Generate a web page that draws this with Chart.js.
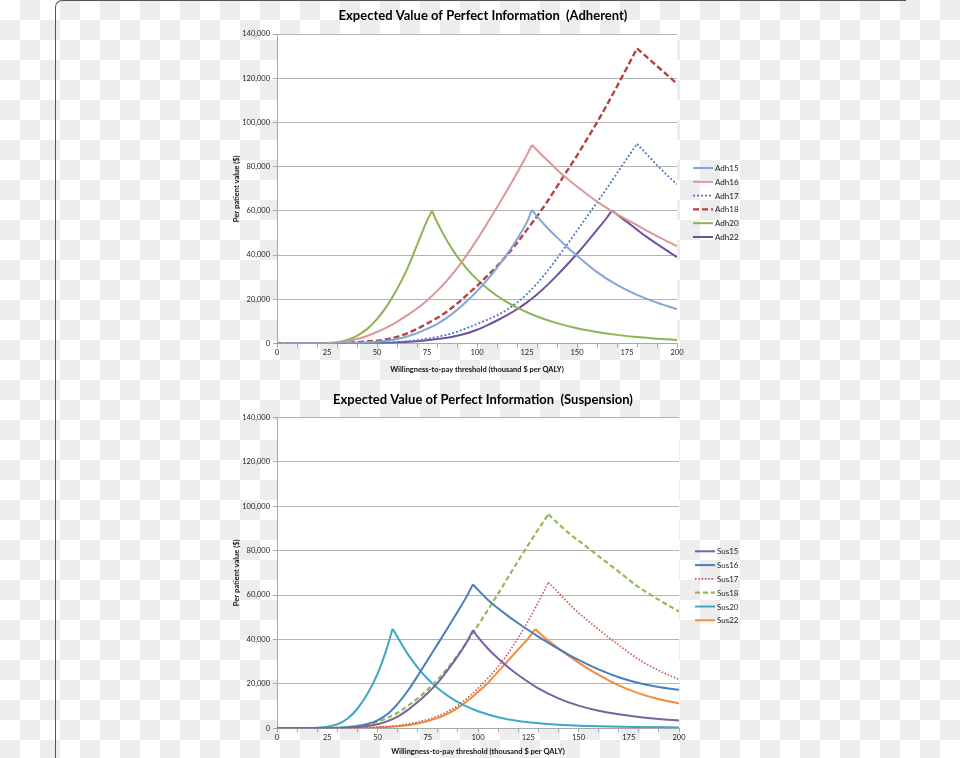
<!DOCTYPE html>
<html>
<head>
<meta charset="utf-8">
<script src="https://cdn.jsdelivr.net/npm/chart.js@4.4.1/dist/chart.umd.min.js"></script>
<style>
  html, body { margin: 0; padding: 0; }
  body {
    width: 960px; height: 758px; overflow: hidden; position: relative;
    background: repeating-conic-gradient(#ededed 0% 25%, #ffffff 0% 50%) 0 0 / 40px 40px;
  }
  #card {
    position: absolute; left: 55px; top: 0; width: 850px; height: 800px;
    border-left: 1.5px solid #555; border-top: 1.5px solid #555;
    border-top-left-radius: 7px;
  }
  .box { position: absolute; left: 0; width: 960px; }
  #box1 { top: 0; height: 380px; }
  #box2 { top: 380px; height: 378px; }
</style>
</head>
<body>
<div id="card"></div>
<div class="box" id="box1"><canvas id="chart1"></canvas></div>
<div class="box" id="box2"><canvas id="chart2"></canvas></div>
<script>
// x axis: willingness-to-pay threshold (thousand $ per QALY)
const xLabels = [0, 25, 50, 75, 100, 125, 150, 175, 200];
const xMarks = [0, 10, 20, 30, 40, 50, 60, 70, 80, 90, 100, 110, 120, 130, 140, 150, 160, 170, 180, 190, 200];
const yTicks = [0, 20000, 40000, 60000, 80000, 100000, 120000, 140000];

// Adherent: [threshold, per patient value]
const adh15 = [[0,0],[30,0],[40,300],[45,500],[50,800],[55,1200],[60,2000],[65,3200],[70,4700],[75,6600],[80,8800],[85,11700],[90,15200],[95,19200],[100,23700],[105,28700],[110,34200],[115,40400],[120,47200],[125,55000],[127.5,60500],[130,57500],[135,52500],[140,48000],[145,43700],[150,39700],[160,32300],[170,26500],[180,22000],[190,18500],[200,15500]];
const adh16 = [[0,0],[20,0],[25,200],[30,500],[35,1000],[40,2000],[45,3400],[50,5200],[55,7300],[60,9800],[65,12700],[70,15800],[75,19500],[80,23700],[85,28500],[90,34000],[95,40200],[100,47000],[105,54200],[110,61600],[115,69200],[120,77100],[125,85400],[127.5,89800],[130,87400],[135,83000],[140,78600],[145,74600],[150,71000],[160,64200],[170,58500],[180,53500],[190,48600],[200,44000]];
const adh17 = [[0,0],[40,0],[50,300],[60,700],[70,1500],[75,2200],[80,3000],[85,4000],[90,5300],[95,7000],[100,8800],[105,10700],[110,12700],[115,15300],[120,18500],[125,22400],[130,27200],[135,32500],[140,38500],[145,44700],[150,51000],[155,57400],[160,63800],[165,70300],[170,77000],[175,83700],[180,90300],[185,85500],[190,80700],[195,76200],[200,72000]];
const adh18 = [[0,0],[25,0],[30,200],[40,600],[50,1300],[55,1900],[60,3000],[65,4600],[70,6600],[75,9000],[80,11500],[85,14500],[90,18000],[95,22000],[100,26000],[105,30500],[110,35000],[115,40000],[120,45500],[125,51500],[130,57500],[135,64000],[140,71000],[145,78000],[150,85000],[155,92500],[160,100000],[165,108000],[170,116300],[175,124800],[180,133500],[185,129500],[190,125500],[195,121500],[200,117500]];
const adh20 = [[0,0],[20,0],[25,200],[30,600],[35,1600],[40,3500],[45,6500],[50,11000],[55,17000],[60,24500],[65,33500],[70,44500],[75,55500],[77.5,60000],[80,55000],[85,46500],[90,39500],[95,33800],[100,29000],[105,25000],[110,21600],[115,18700],[120,16200],[130,12200],[140,9200],[150,6900],[160,5200],[170,3900],[180,2900],[190,2200],[200,1600]];
const adh22 = [[0,0],[40,0],[50,200],[60,500],[70,1000],[80,2000],[85,2600],[90,3500],[95,4600],[100,6200],[105,8200],[110,10400],[115,12800],[120,15500],[125,18600],[130,22200],[135,26300],[140,30800],[145,35600],[150,40600],[155,45900],[160,51400],[165,57000],[167.5,60200],[170,58400],[175,55000],[180,51500],[185,48100],[190,45000],[195,42000],[200,39000]];

// Suspension
const sus15 = [[0,0],[30,0],[35,200],[40,500],[45,1000],[50,1800],[55,3200],[60,5300],[65,8200],[70,11800],[75,15900],[80,20600],[85,26300],[90,32600],[95,39800],[97.5,44200],[100,41000],[105,35800],[110,31400],[115,27500],[120,24000],[130,18000],[140,13500],[150,10200],[160,7900],[170,6300],[180,5100],[190,4200],[200,3500]];
const sus16 = [[0,0],[25,0],[30,200],[35,500],[40,1000],[45,2000],[50,3600],[55,6400],[60,11000],[65,16800],[70,23600],[75,30800],[80,38000],[85,45300],[90,52700],[95,60400],[97.5,64800],[100,62300],[105,57800],[110,54000],[115,50500],[120,47300],[130,41300],[140,35800],[150,30800],[160,26500],[170,23000],[180,20400],[190,18600],[200,17300]];
const sus17 = [[0,0],[35,0],[40,200],[50,500],[60,1200],[70,2800],[75,4000],[80,5500],[85,7500],[90,10300],[95,13800],[100,18000],[105,22600],[110,27800],[115,33800],[120,40700],[125,48400],[130,56800],[135,65700],[140,61000],[145,56300],[150,52000],[160,44500],[170,37500],[180,31000],[190,26000],[200,22000]];
const sus18 = [[0,0],[25,0],[30,200],[40,1000],[45,1800],[50,3000],[55,4700],[60,7000],[65,10000],[70,13500],[75,17500],[80,22000],[85,27200],[90,33000],[95,39600],[100,46400],[105,53400],[110,60600],[115,68000],[120,75400],[125,82600],[130,89600],[135,96300],[140,92000],[145,88000],[150,84500],[160,77500],[170,70500],[180,63500],[190,57800],[200,52600]];
const sus20 = [[0,0],[15,0],[20,200],[25,700],[30,1800],[35,4300],[40,8800],[45,15500],[50,24500],[55,37000],[57.5,44800],[60,41000],[65,33500],[70,27300],[75,22200],[80,18000],[85,14600],[90,11800],[95,9500],[100,7700],[110,5000],[120,3300],[130,2300],[140,1600],[150,1200],[160,900],[180,600],[200,400]];
const sus22 = [[0,0],[35,0],[40,100],[50,400],[60,900],[70,2200],[75,3300],[80,4700],[85,6600],[90,9200],[95,12500],[100,16300],[105,20500],[110,25500],[115,30500],[120,35500],[125,40500],[128.5,44700],[130,43400],[135,39500],[140,36000],[150,29600],[160,24000],[170,19300],[180,15700],[190,13100],[200,11200]];

const FONT = 'Lato, "Open Sans", sans-serif';
const axisGrey = '#a8a8a8';

// white plot area behind the lines
const plotBack = {
  id: 'plotBack',
  beforeDraw(chart) {
    const a = chart.chartArea;
    chart.ctx.save();
    chart.ctx.fillStyle = '#ffffff';
    chart.ctx.fillRect(a.left, a.top, a.right - a.left, a.bottom - a.top);
    chart.ctx.restore();
  }
};

// chart title plus a line-sample legend to the right of the plot
const headAndLegend = {
  id: 'headAndLegend',
  afterDraw(chart, args, opts) {
    const {ctx, chartArea} = chart;
    ctx.save();
    ctx.fillStyle = '#000';
    ctx.font = 'bold 13px ' + FONT;
    ctx.textAlign = 'center';
    ctx.textBaseline = 'middle';
    ctx.fillText(opts.title, opts.titleX, opts.titleY);

    const x0 = chartArea.right + 16;
    const y0 = chartArea.top + 134;
    ctx.font = '8px ' + FONT;
    ctx.textAlign = 'left';
    chart.data.datasets.filter(ds => ds.inLegend).forEach((ds, i) => {
      const y = y0 + i * 13.8;
      ctx.beginPath();
      ctx.setLineDash(ds.borderDash || []);
      ctx.lineWidth = ds.borderWidth;
      ctx.strokeStyle = ds.borderColor;
      ctx.moveTo(x0, y);
      ctx.lineTo(x0 + 20, y);
      ctx.stroke();
      ctx.setLineDash([]);
      ctx.fillStyle = '#222';
      ctx.fillText(ds.label, x0 + 22, y + 0.5);
    });
    ctx.restore();
  }
};

function toPoints(pairs) {
  return pairs.map(p => ({x: p[0], y: p[1]}));
}

// each curve goes up to a sharp peak and back down, so it is drawn as two
// pieces that meet at the peak point
function makeSeries(label, pairs, color, dash, width) {
  let k = 0;
  pairs.forEach((p, i) => { if (p[1] > pairs[k][1]) k = i; });
  const base = {
    label: label,
    borderColor: color,
    borderWidth: width,
    borderDash: dash,
    pointRadius: 0,
    fill: false,
    cubicInterpolationMode: 'monotone'
  };
  return [
    Object.assign({}, base, { data: toPoints(pairs.slice(0, k + 1)), inLegend: true }),
    Object.assign({}, base, { data: toPoints(pairs.slice(k)), inLegend: false })
  ];
}

function makeChart(id, title, titleY, datasets, geo) {
  return new Chart(document.getElementById(id), {
    type: 'line',
    data: { datasets: datasets },
    plugins: [plotBack, headAndLegend],
    options: {
      responsive: true,
      maintainAspectRatio: false,
      animation: false,
      layout: { padding: { left: 227, right: geo.right, top: geo.top, bottom: 0 } },
      plugins: {
        legend: { display: false },
        tooltip: { enabled: false },
        headAndLegend: { title: title, titleX: 483, titleY: titleY }
      },
      scales: {
        x: {
          type: 'linear',
          min: 0,
          max: 200,
          afterBuildTicks: s => {
            const all = xMarks.concat(xLabels.filter(v => !xMarks.includes(v))).sort((a, b) => a - b);
            s.ticks = all.map(v => ({value: v}));
          },
          afterFit: s => { s.height = geo.xHeight; },
          ticks: {
            autoSkip: false,
            maxRotation: 0,
            padding: 1,
            color: '#222',
            font: { family: FONT, size: 7.5 },
            callback: v => xLabels.includes(v) ? String(v) : ''
          },
          grid: {
            drawOnChartArea: false,
            tickLength: 4,
            tickColor: c => (c.tick && xMarks.includes(c.tick.value)) ? axisGrey : 'rgba(0,0,0,0)'
          },
          border: { color: axisGrey },
          title: {
            display: true,
            text: 'Willingness-to-pay threshold (thousand $ per QALY)',
            color: '#111',
            font: { family: FONT, size: 7.5, weight: 'bold' },
            padding: { top: 0, bottom: geo.xTitlePad }
          }
        },
        y: {
          min: 0,
          max: 140000,
          afterBuildTicks: s => { s.ticks = yTicks.map(v => ({value: v})); },
          afterFit: s => { s.width = 50; },
          ticks: {
            padding: 3,
            color: '#222',
            font: { family: FONT, size: 7.5 },
            callback: v => v.toLocaleString('en-US')
          },
          grid: { color: '#b4b4b4', lineWidth: 1, tickLength: 4, tickColor: axisGrey },
          border: { color: axisGrey },
          title: {
            display: true,
            text: 'Per patient value ($)',
            color: '#111',
            font: { family: FONT, size: 7.5, weight: 'bold' },
            padding: { top: 5, bottom: 0 }
          }
        }
      }
    }
  });
}

makeChart('chart1', 'Expected Value of Perfect Information  (Adherent)', 16, [].concat(
  makeSeries('Adh15', adh15, '#82a6d6', [], 2),
  makeSeries('Adh16', adh16, '#dc9896', [], 2),
  makeSeries('Adh17', adh17, '#4a7cc2', [2, 2], 1.8),
  makeSeries('Adh18', adh18, '#b8423f', [6, 3], 2.4),
  makeSeries('Adh20', adh20, '#8db352', [], 2),
  makeSeries('Adh22', adh22, '#6e519e', [], 2)
), { right: 283, top: 34, xHeight: 36.5, xTitlePad: 6.2 });

makeChart('chart2', 'Expected Value of Perfect Information  (Suspension)', 20, [].concat(
  makeSeries('Sus15', sus15, '#7b60a4', [], 2),
  makeSeries('Sus16', sus16, '#4a7ebb', [], 2),
  makeSeries('Sus17', sus17, '#c9514e', [1.5, 1.8], 1.6),
  makeSeries('Sus18', sus18, '#94b957', [5, 3], 2.2),
  makeSeries('Sus20', sus20, '#3fa8c4', [], 2),
  makeSeries('Sus22', sus22, '#f08c3c', [], 2)
), { right: 281, top: 37.3, xHeight: 29.7, xTitlePad: 1.8 });
</script>
</body>
</html>
